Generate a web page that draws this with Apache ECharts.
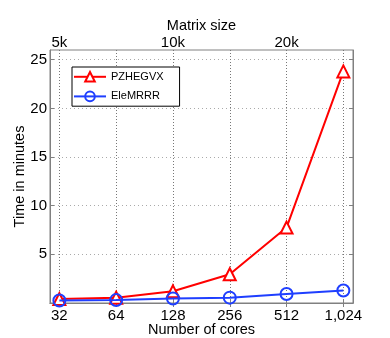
<!DOCTYPE html>
<html><head><meta charset="utf-8">
<script src="https://cdn.jsdelivr.net/npm/echarts@6/dist/echarts.min.js"></script>
<style>html,body{margin:0;padding:0;background:#fff}#c{width:390px;height:338px}</style>
</head><body><div id="c"></div>
<script>
var cores = [32, 64, 128, 256, 512, 1024];
var pzhegvx = [0.4, 0.55, 1.2, 2.95, 7.75, 23.8];
var elemrrr = [0.25, 0.3, 0.47, 0.55, 0.92, 1.28];
var matrixCores = [32, 128, 512];
var matrixLabels = ['5k', '10k', '20k'];
var yTicks = [5, 10, 15, 20, 25];

function lg(v){ return Math.log(v) / Math.LN2; }
function fmt(n){ return n.toLocaleString('en-US'); }

var xVals = cores.map(lg);
var topVals = matrixCores.map(lg);
var font = 'Liberation Sans, Arial, sans-serif';
var tickFs = 15, nameFs = 14.5;

var chart = echarts.init(document.getElementById('c'), null, {renderer: 'canvas'});
chart.setOption({
  animation: false,
  backgroundColor: '#fff',
  grid: {left: 50, right: 37, top: 50, bottom: 35, containLabel: false, outerBoundsMode: 'none',
    show: true, borderColor: '#808080', borderWidth: 1, backgroundColor: 'transparent'},
  legend: {
    left: 72, top: 67, orient: 'vertical', itemGap: 8,
    itemWidth: 32, itemHeight: 12,
    padding: [4, 16, 4, 1],
    borderColor: '#000', borderWidth: 1, backgroundColor: '#fff',
    textStyle: {fontFamily: font, fontSize: 11, color: '#000'},
    data: ['PZHEGVX', 'EleMRRR']
  },
  xAxis: [{
    type: 'value', position: 'bottom', min: 5 - 0.165, max: 10.17,
    name: 'Number of cores', nameLocation: 'middle', nameGap: 19.5, nameMoveOverlap: false,
    nameTextStyle: {fontFamily: font, fontSize: nameFs, color: '#000'},
    axisLine: {show: true, lineStyle: {color: '#808080'}},
    axisTick: {show: true, inside: true, length: 4, customValues: xVals, lineStyle: {color: '#808080'}},
    axisLabel: {customValues: xVals, fontFamily: font, fontSize: tickFs, color: '#000', margin: 5,
      formatter: function(v){ return fmt(Math.round(Math.pow(2, v))); }},
    splitLine: {show: true, lineStyle: {color: '#777', type: [1, 2], width: 1}}
  }, {
    type: 'value', position: 'top', min: 5 - 0.165, max: 10.17,
    name: 'Matrix size', nameLocation: 'middle', nameGap: 17, nameMoveOverlap: false,
    nameTextStyle: {fontFamily: font, fontSize: nameFs, color: '#000'},
    axisLine: {show: true, lineStyle: {color: '#808080'}},
    axisTick: {show: true, inside: true, length: 4, customValues: xVals, lineStyle: {color: '#808080'}},
    axisLabel: {customValues: topVals, fontFamily: font, fontSize: tickFs, color: '#000', margin: 0,
      formatter: function(v){ var i = topVals.findIndex(function(t){return Math.abs(t - v) < 1e-6;}); return i >= 0 ? matrixLabels[i] : ''; }},
    splitLine: {show: false}
  }],
  yAxis: [{
    type: 'value', position: 'left', min: 0, max: 26, interval: 5,
    name: 'Time in minutes', nameLocation: 'middle', nameGap: 22.5, nameMoveOverlap: false,
    nameTextStyle: {fontFamily: font, fontSize: nameFs, color: '#000'},
    axisLine: {show: true, lineStyle: {color: '#808080'}},
    axisTick: {show: true, inside: true, length: 4, customValues: yTicks, lineStyle: {color: '#808080'}},
    axisLabel: {customValues: yTicks, fontFamily: font, fontSize: tickFs, color: '#000', margin: 3},
    splitLine: {show: true, lineStyle: {color: '#aaa', type: [1, 3], width: 1}}
  }, {
    type: 'value', position: 'right', min: 0, max: 26, interval: 5,
    axisLine: {show: true, lineStyle: {color: '#808080'}},
    axisTick: {show: true, inside: true, length: 4, customValues: yTicks, lineStyle: {color: '#808080'}},
    axisLabel: {show: false},
    splitLine: {show: false}
  }],
  series: [{
    name: 'PZHEGVX', type: 'line',
    data: xVals.map(function(x, i){ return [x, pzhegvx[i]]; }),
    symbol: 'triangle', symbolSize: 12, showAllSymbol: true,
    lineStyle: {color: '#ff0000', width: 2},
    itemStyle: {color: '#fff', borderColor: '#ff0000', borderWidth: 2},
    color: '#ff0000', z: 3
  }, {
    name: 'EleMRRR', type: 'line',
    data: xVals.map(function(x, i){ return [x, elemrrr[i]]; }),
    symbol: 'circle', symbolSize: 12, showAllSymbol: true,
    lineStyle: {color: '#1f3fff', width: 2},
    itemStyle: {color: 'transparent', borderColor: '#1f3fff', borderWidth: 2},
    color: '#1f3fff', z: 4
  }]
});
</script>
</body></html>
